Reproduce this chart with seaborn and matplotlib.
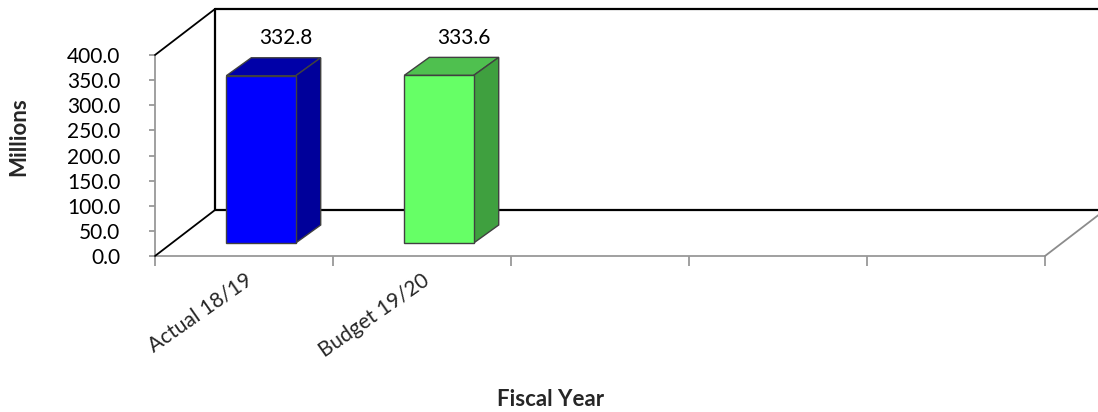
import matplotlib
matplotlib.use("Agg")
import matplotlib.pyplot as plt
import matplotlib.transforms as mtransforms
from matplotlib.patches import Polygon
import seaborn as sns
import pandas as pd

# Data
categories = ["Actual 18/19", "Budget 19/20"]
values = [332.8, 333.6]
value_labels = ["332.8", "333.6"]
n_slots = 5
yticks = [0, 50, 100, 150, 200, 250, 300, 350, 400]

front_colors = ["#0000FF", "#66FF66"]
top_colors = ["#0000A8", "#4FC04F"]
side_colors = ["#00009A", "#3FA03F"]

sns.set_theme(style="white")
plt.rcParams["font.family"] = ["Lato", "DejaVu Sans"]

DPI = 100
W, H = 1098, 412
fig = plt.figure(figsize=(W / DPI, H / DPI), dpi=DPI)
ax = fig.add_axes([155 / W, (H - 256) / H, 890 / W, 201 / H])

df = pd.DataFrame({"cat": categories, "val": values})
sns.barplot(data=df, x="cat", y="val", hue="cat", palette=front_colors,
            width=0.39, legend=False, ax=ax, saturation=1,
            edgecolor="#404040", linewidth=1.0, zorder=5)

ax.set_xlim(-0.5, n_slots - 0.5)
ax.set_ylim(0, 400)
ax.set_yticks(yticks)
ax.set_yticklabels([f"{v:.1f}" for v in yticks])

# depth offsets in pixels (front of bars, back of bars, back wall)
FRONT = (17, 13)
BACK = (42, 31)
WALL = (60, 46)


def shifted(x, y, off):
    disp = ax.transData.transform((x, y))
    return ax.transData.inverted().transform((disp[0] + off[0], disp[1] + off[1]))


def axshift(xa, ya, off):
    disp = ax.transAxes.transform((xa, ya))
    return ax.transAxes.inverted().transform((disp[0] + off[0], disp[1] + off[1]))


# back wall, floor and side wall outlines
wl = dict(transform=ax.transAxes, clip_on=False, zorder=1)
p00 = axshift(0, 0, WALL)
p01 = axshift(0, 1, WALL)
p10 = axshift(1, 0, WALL)
p11 = axshift(1, 1, WALL)
ax.plot([p01[0], p11[0] + 0.1], [p01[1], p11[1]], color="black", lw=1.6, **wl)
ax.plot([p00[0], p10[0] + 0.1], [p00[1], p10[1]], color="black", lw=1.6, **wl)
ax.plot([p00[0], p01[0]], [p00[1], p01[1]], color="black", lw=1.6, **wl)
ax.plot([0, p01[0]], [1, p01[1]], color="black", lw=1.3, **wl)
ax.plot([0, p00[0]], [0, p00[1]], color="black", lw=1.3, **wl)
ax.plot([1, p10[0]], [0, p10[1]], color="#8C8C8C", lw=1.3, **wl)

# 3D bar faces
for i, p in enumerate(ax.patches[:len(values)]):
    x0, w, h = p.get_x(), p.get_width(), p.get_height()
    p.set_transform(ax.transData + mtransforms.ScaledTranslation(
        FRONT[0] / DPI, FRONT[1] / DPI, fig.dpi_scale_trans))
    p.set_clip_on(False)
    top = [shifted(x0, h, FRONT), shifted(x0 + w, h, FRONT),
           shifted(x0 + w, h, BACK), shifted(x0, h, BACK)]
    side = [shifted(x0 + w, 0, FRONT), shifted(x0 + w, h, FRONT),
            shifted(x0 + w, h, BACK), shifted(x0 + w, 0, BACK)]
    for pts, col in ((top, top_colors[i]), (side, side_colors[i])):
        ax.add_patch(Polygon(pts, closed=True, facecolor=col, edgecolor="#404040",
                             linewidth=1.0, clip_on=False, zorder=4))
    lx, ly = shifted(x0 + w / 2, h, BACK)
    ax.annotate(value_labels[i], (lx, ly), xytext=(0, 7), textcoords="offset points",
                ha="center", va="bottom", fontsize=15, color="black",
                annotation_clip=False)

# axes styling
for s in ("top", "right"):
    ax.spines[s].set_visible(False)
for s in ("left", "bottom"):
    ax.spines[s].set_color("#999999")
    ax.spines[s].set_linewidth(1.3)
ax.spines["left"].set_zorder(0)
ax.spines["bottom"].set_zorder(0)

ax.set_xticks(range(len(categories)))
ax.set_xticklabels(categories, rotation=35, ha="right", va="top",
                   rotation_mode="anchor", fontsize=15)
ax.set_xticks([i - 0.5 for i in range(n_slots + 1)], minor=True)
ax.tick_params(axis="x", which="major", length=0, pad=10)
ax.tick_params(axis="x", which="minor", length=7, width=1.3, color="#999999",
               direction="out", bottom=True)
ax.tick_params(axis="y", length=4, width=1.3, color="#999999", left=True,
               direction="out", pad=21, labelsize=15)
for t in ax.get_yticklabels():
    t.set_color("black")
ax.set_xlabel("")
ax.set_ylabel("")

fig.text(19 / W, 1 - 137 / H, "Millions", rotation=90, ha="center", va="center",
         fontsize=16, fontweight="bold")
fig.text(551 / W, 1 - 400 / H, "Fiscal Year", ha="center", va="center",
         fontsize=16, fontweight="bold")

fig.savefig("out.png", dpi=DPI)
